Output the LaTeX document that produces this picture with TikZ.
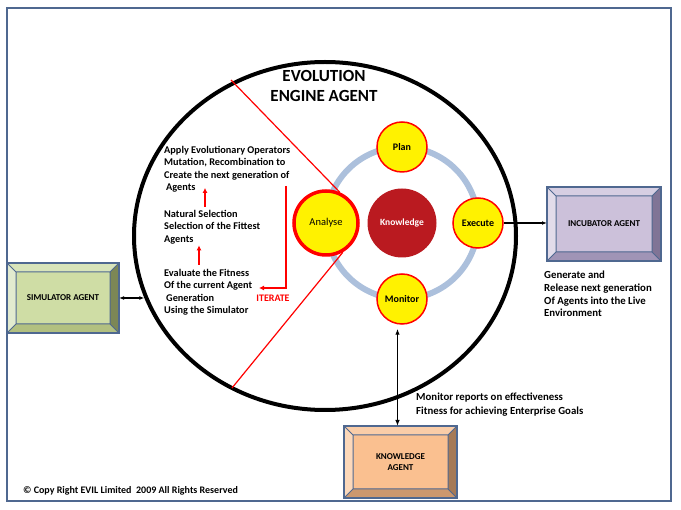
\documentclass[tikz,border=0pt]{standalone}
\usepackage{fontspec}
\setmainfont{Carlito}
\usetikzlibrary{calc,positioning,arrows.meta,shapes.geometric}

\definecolor{frameblue}{RGB}{79,104,144}
\definecolor{ringblue}{RGB}{172,192,220}
\definecolor{knowred}{RGB}{186,26,32}
\definecolor{simface}{RGB}{207,221,165}
\definecolor{simleft}{RGB}{226,235,207}
\definecolor{simtop}{RGB}{216,228,186}
\definecolor{simright}{RGB}{124,135,86}
\definecolor{simbot}{RGB}{178,192,128}
\definecolor{incface}{RGB}{204,193,218}
\definecolor{incleft}{RGB}{226,220,234}
\definecolor{inctop}{RGB}{214,206,226}
\definecolor{incright}{RGB}{128,116,150}
\definecolor{incbot}{RGB}{160,148,182}
\definecolor{kagface}{RGB}{250,192,144}
\definecolor{kagleft}{RGB}{252,216,186}
\definecolor{kagtop}{RGB}{250,205,168}
\definecolor{kagright}{RGB}{166,122,86}
\definecolor{kagbot}{RGB}{204,152,110}

\tikzset{
	agentbox/.style n args={5}{draw=frameblue, line width=1.6pt, fill=#1, rectangle,
		inner sep=0pt, outer sep=0pt, align=center,
		font=\bfseries\fontsize{9}{11}\selectfont,
		path picture={
			\path (path picture bounding box.north west) coordinate (bnw) ++(9pt,-9pt) coordinate (inw);
			\path (path picture bounding box.north east) coordinate (bne) ++(-9pt,-9pt) coordinate (ine);
			\path (path picture bounding box.south west) coordinate (bsw) ++(9pt,9pt) coordinate (isw);
			\path (path picture bounding box.south east) coordinate (bse) ++(-9pt,9pt) coordinate (ise);
			\fill[#2] (bnw) -- (bsw) -- (isw) -- (inw) -- cycle;
			\fill[#3] (bnw) -- (bne) -- (ine) -- (inw) -- cycle;
			\fill[#4] (bne) -- (bse) -- (ise) -- (ine) -- cycle;
			\fill[#5] (bsw) -- (bse) -- (ise) -- (isw) -- cycle;
			\draw[frameblue, line width=1pt] (inw) rectangle (ise)
				(bnw) -- (inw) (bne) -- (ine) (bsw) -- (isw) (bse) -- (ise);
		}},
	stage/.style={circle, fill=yellow, draw=red, line width=1.5pt, minimum size=50pt,
		inner sep=0pt, font=\bfseries\fontsize{10}{12}\selectfont},
	steptext/.style={anchor=north west, inner sep=0pt, align=left,
		font=\bfseries\fontsize{10.3}{12.5}\selectfont},
	notetext/.style={anchor=north west, inner sep=0pt, align=left,
		font=\bfseries\fontsize{10.8}{12.7}\selectfont},
	redarrow/.style={red, line width=1.2pt, -{Latex[length=5pt,width=5pt]}},
	blackarrow/.style={black, line width=1.1pt},
}

\begin{document}
\begin{tikzpicture}[x=1pt, y=-1pt]
		%%%%% START %%%%%
		\useasboundingbox (0,0) rectangle (681,510);
		
		\draw[frameblue, line width=2pt] (7,8) rectangle (671,501);
		
		% engine
		\node[ellipse, draw, line width=4pt, minimum width=382pt, minimum height=348pt, inner sep=0pt] (engine) at (325,236) {};
		\node[align=center, inner sep=0pt, font=\bfseries\fontsize{17}{20}\selectfont] (title) at (324,86) {EVOLUTION\\ENGINE AGENT};
		
		\coordinate (wedgetop) at (231,80);
		\coordinate (wedgebot) at (232,388);
		
		\node[circle, draw=ringblue, line width=6pt, minimum size=152pt, inner sep=0pt, outer sep=0pt] (ring) at (402,223) {};
		\node[circle, fill=knowred, minimum size=69pt, inner sep=0pt, text=white, font=\bfseries\fontsize{9.5}{11}\selectfont] (knowledge) at (ring.center) {Knowledge};
		
		\node[stage] (plan) at (ring.north) {Plan};
		\node[stage] (execute) at (ring.east) {Execute};
		\node[stage] (monitor) at (ring.south) {Monitor};
		\node[stage, minimum size=64pt, line width=3.5pt, font=\fontsize{10.5}{12}\selectfont] (analyse) at (ring.west) {Analyse};
		
		\draw[red, line width=1.2pt] (wedgetop) -- (analyse.66);
		\draw[red, line width=1.2pt] (analyse.-60) -- (wedgebot);
		
		% steps
		\node[steptext] (operators) at (164,146) {Apply Evolutionary Operators\\Mutation, Recombination to\\Create the next generation of\\\hspace{2pt}Agents};
		\node[steptext] (selection) at (164,210) {Natural Selection\\Selection of the Fittest\\Agents};
		\node[steptext] (fitness) at (164,269) {Evaluate the Fitness\\Of the current Agent\\\hspace{2pt}Generation\\Using the Simulator};
		
		\draw[redarrow, shorten <=3pt, shorten >=-5pt] ([xshift=41pt]selection.north west) -- ([xshift=41pt]operators.south west);
		\draw[redarrow, shorten <=4pt, shorten >=1pt] ([xshift=35pt]fitness.north west) -- ([xshift=35pt]selection.south west);
		
		\coordinate (iterstart) at (286,186);
		\coordinate (iterend) at (259,288);
		\draw[redarrow] (iterstart) |- (iterend);
		\node[inner sep=0pt, text=red, font=\bfseries\fontsize{10}{12}\selectfont] (iterate) at (273,298) {ITERATE};
		
		% agents
		\node[agentbox={simface}{simleft}{simtop}{simright}{simbot}, minimum width=112pt, minimum height=70pt] (simulator) at (63,298) {SIMULATOR AGENT};
		\node[agentbox={incface}{incleft}{inctop}{incright}{incbot}, minimum width=114pt, minimum height=74pt] (incubator) at (604,224) {INCUBATOR AGENT};
		\node[agentbox={kagface}{kagleft}{kagtop}{kagright}{kagbot}, minimum width=113pt, minimum height=72pt] (knowagent) at (400.5,462) {KNOWLEDGE\\AGENT};
		
		\draw[blackarrow, {Latex[length=5pt]}-{Latex[length=5pt]}] (simulator.east) -- (engine.199 |- simulator.east);
		\draw[blackarrow, -{Latex[length=5pt]}] (execute.east) -- (execute.east -| incubator.west);
		\draw[blackarrow, {Latex[length=6pt]}-{Latex[length=6pt]}, shorten >=4pt] ([xshift=-3pt]knowagent.north) -- ([xshift=-3pt]knowagent.north |- monitor.south);
		
		% notes
		\node[notetext] (incnote) at (544,271) {Generate and\\Release next generation\\Of Agents into the Live\\Environment};
		\node[notetext, font=\bfseries\fontsize{10.8}{14}\selectfont] (monnote) at (416,393) {Monitor reports on effectiveness\\Fitness for achieving Enterprise Goals};
		
		\node[anchor=west, inner sep=0pt, font=\bfseries\fontsize{10}{12}\selectfont] (copyright) at (23,491) {\textcopyright\ Copy Right EVIL Limited\ \ 2009 All Rights Reserved};
		
		%%%%% END %%%%%
	\end{tikzpicture}
\end{document}
